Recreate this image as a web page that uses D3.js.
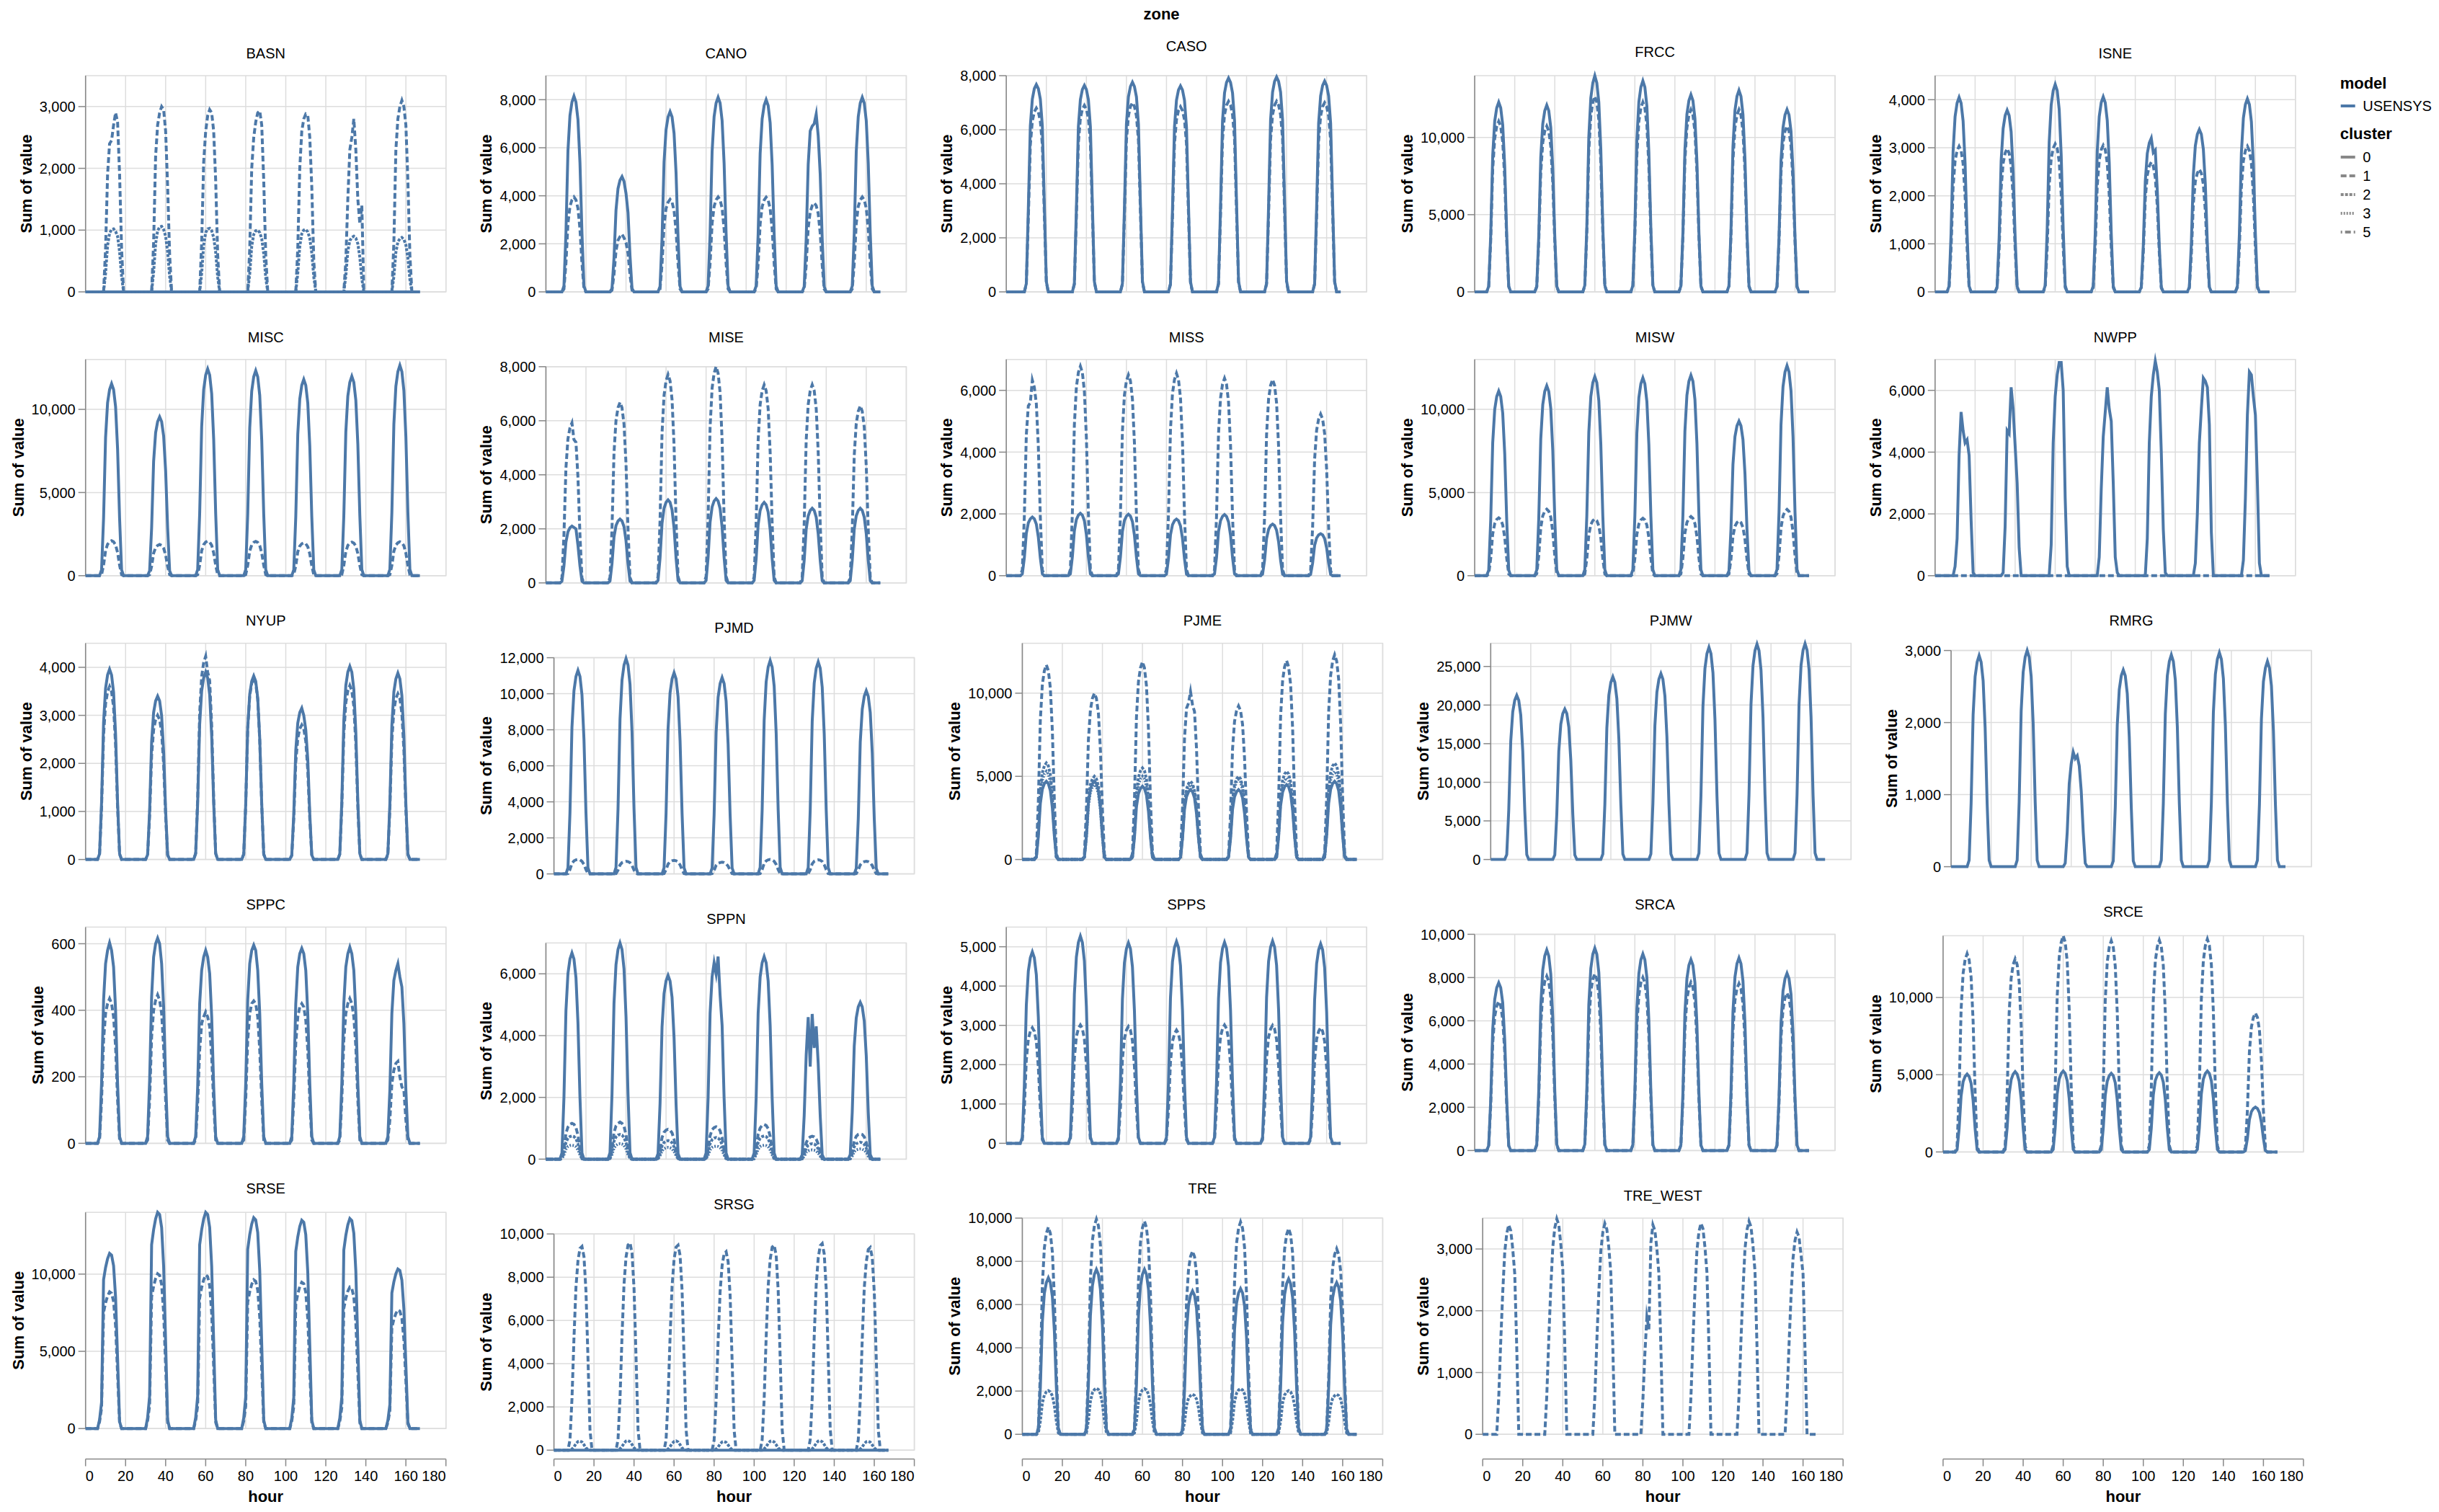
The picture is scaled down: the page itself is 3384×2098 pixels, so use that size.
<!DOCTYPE html>
<html><head><meta charset="utf-8">
<script src="https://cdn.jsdelivr.net/npm/d3@7"></script>
<style>html,body{margin:0;padding:0;background:#fff;} svg{display:block;font-family:"Liberation Sans",Arial,sans-serif;}</style>
</head><body><svg id="chart" width="3384" height="2098"></svg>
<script>
// ---------------- DATA ----------------
const zones = ["BASN","CANO","CASO","FRCC","ISNE","MISC","MISE","MISS","MISW","NWPP","NYUP","PJMD","PJME","PJMW","RMRG","SPPC","SPPN","SPPS","SRCA","SRCE","SRSE","SRSG","TRE","TRE_WEST"];
// first hour of each day's daylight window (hour of day) per zone
const startHour = [9,9,10,7,7, 8,8,8,7,9, 7,7,7,8,9, 7,8,8,7,7, 7,8,8,8];
const clusters = ["0","1","2","3","5"];
const models = ["USENSYS"];
const hourTicks = [0,20,40,60,80,100,120,140,160,180];
// each series: 7 days, hourly values starting at the zone's start hour (other hours are 0)
const BASN_c0 = [];
const BASN_c1 = [[0,700,1900,2400,2450,2700,2900,2750,1900,700,0],[0,800,2200,2700,2900,3000,2950,2600,1700,600,0],[0,800,2100,2600,2850,2950,2900,2600,1800,600,0],[0,700,2000,2500,2750,2900,2930,2700,1800,600,0],[0,700,2000,2600,2800,2880,2860,2500,1700,500,0],[0,500,1500,2300,2500,2800,2300,1500,1100,1400,0],[0,800,2300,2800,3000,3100,3000,2700,1800,600,0]];
const BASN_c2 = [[0,300,750,950,1010,1020,980,900,650,250,0],[0,320,780,990,1050,1060,1010,900,650,250,0],[0,300,760,960,1020,1030,990,880,640,240,0],[0,290,740,930,990,1000,960,860,620,230,0],[0,300,740,940,1000,1010,970,870,630,240,0],[0,260,660,830,880,900,870,780,560,210,0],[0,250,640,810,860,880,850,760,550,200,0]];
const CANO_c0 = [[240,2450,5870,7340,7900,8150,7900,7170,5380,2450,240],[140,1400,3400,4300,4650,4800,4600,4100,3300,1500,140],[230,2250,5400,6750,7280,7500,7280,6600,4950,2250,230],[240,2430,5830,7290,7860,8100,7860,7130,5350,2430,240],[240,2400,5760,7200,7760,8000,7760,7040,5280,2400,240],[220,2200,5300,6700,6900,7000,7400,6500,4900,2200,220],[240,2430,5830,7290,7860,8100,7860,7130,5350,2430,240]];
const CANO_c1 = [[120,1190,2840,3560,3830,3950,3830,3480,2610,1190,120],[70,720,1700,2150,2300,2400,2250,2050,1600,700,70],[120,1160,2770,3470,3730,3850,3730,3390,2540,1160,120],[120,1190,2840,3560,3830,3950,3830,3480,2610,1190,120],[120,1180,2830,3550,3820,3940,3820,3470,2600,1180,120],[110,1110,2660,3330,3590,3700,3590,3260,2440,1110,110],[120,1190,2840,3560,3830,3950,3830,3480,2610,1190,120]];
const CASO_c0 = [[310,3070,6140,7130,7520,7670,7520,7130,6140,3220,380],[310,3060,6110,7110,7490,7640,7490,7110,6110,3210,380],[310,3100,6210,7220,7600,7760,7600,7220,6210,3260,390],[300,3050,6100,7090,7470,7620,7470,7090,6100,3200,380],[320,3160,6330,7360,7750,7910,7750,7360,6330,3320,400],[320,3180,6360,7390,7790,7950,7790,7390,6360,3340,400],[310,3120,6240,7250,7640,7800,7640,7250,6240,3280,390]];
const CASO_c1 = [[270,2720,5440,6320,6660,6800,6660,6320,5440,2860,340],[280,2760,5520,6420,6760,6900,6760,6420,5520,2900,350],[280,2800,5600,6510,6860,7000,6860,6510,5600,2940,350],[270,2740,5480,6370,6710,6850,6710,6370,5480,2880,340],[280,2820,5640,6560,6910,7050,6910,6560,5640,2960,350],[280,2820,5640,6560,6910,7050,6910,6560,5640,2960,350],[280,2800,5600,6510,6860,7000,6860,6510,5600,2940,350]];
const FRCC_c0 = [[370,3680,8840,11050,11910,12280,11910,10810,8100,3680,370],[360,3630,8700,10880,11730,12090,11730,10640,7980,3630,360],[420,4190,10040,12560,13530,14000,13530,12280,9210,4190,420],[410,4100,9840,12300,13260,13670,13260,12030,9020,4100,410],[380,3830,9190,11490,12390,12770,12390,11240,8430,3830,380],[390,3920,9400,11750,12660,13050,12660,11480,8610,3920,390],[350,3540,8500,10630,11460,11810,11460,10390,7790,3540,350]];
const FRCC_c1 = [[330,3310,7950,9940,10710,11040,10710,9720,7290,3310,330],[320,3220,7730,9660,10410,10730,10410,9440,7080,3220,320],[380,3800,9120,11390,12280,12660,12280,11140,8360,3800,380],[370,3680,8840,11050,11910,12280,11910,10810,8100,3680,370],[350,3540,8500,10620,11450,11800,11450,10380,7790,3540,350],[350,3540,8500,10620,11450,11800,11450,10380,7790,3540,350],[320,3220,7730,9660,10410,10730,10410,9440,7080,3220,320]];
const ISNE_c0 = [[120,1220,2920,3650,3930,4050,3930,3560,2670,1220,120],[110,1130,2720,3400,3670,3780,3670,3330,2490,1130,110],[130,1300,3110,3890,4190,4320,4190,3800,2850,1300,130],[120,1220,2920,3650,3940,4060,3940,3570,2680,1220,120],[100,960,2300,2880,3100,3200,2900,2950,2110,960,100],[100,1010,2430,3040,3280,3380,3280,2970,2230,1010,100],[120,1210,2890,3620,3900,4020,3900,3540,2650,1210,120]];
const ISNE_c1 = [[90,910,2180,2730,2940,3030,2940,2670,2000,910,90],[90,890,2150,2680,2890,2980,2890,2620,1970,890,90],[90,920,2220,2770,2990,3080,2990,2710,2030,920,90],[90,920,2200,2750,2960,3050,2960,2680,2010,920,90],[80,810,1940,2430,2620,2700,2620,2380,1780,810,80],[80,770,1840,2300,2470,2550,2470,2240,1680,770,80],[90,910,2180,2730,2940,3030,2940,2670,2000,910,90]];
const MISC_c0 = [[350,3460,8310,10390,11190,11540,11190,10160,7620,3460,350],[290,2870,6880,8600,9260,9550,9260,8400,6300,2870,290],[370,3730,8950,11190,12060,12430,12060,10940,8200,3730,370],[370,3700,8880,11100,11960,12330,11960,10850,8140,3700,370],[350,3540,8500,10620,11450,11800,11450,10380,7790,3540,350],[360,3600,8630,10790,11630,11990,11630,10550,7910,3600,360],[380,3800,9110,11390,12270,12650,12270,11130,8350,3800,380]];
const MISC_c1 = [[60,630,1510,1890,2040,2100,2040,1850,1390,630,60],[60,560,1350,1690,1820,1880,1820,1650,1240,560,60],[60,620,1500,1870,2020,2080,2020,1830,1370,620,60],[60,620,1480,1850,2000,2060,2000,1810,1360,620,60],[60,590,1430,1780,1920,1980,1920,1740,1310,590,60],[60,610,1450,1820,1960,2020,1960,1780,1330,610,60],[60,610,1470,1840,1980,2040,1980,1800,1350,610,60]];
const MISE_c0 = [[60,630,1510,1890,2040,2100,2050,2000,1390,630,60],[70,710,1700,2120,2290,2360,2290,2080,1560,710,70],[90,920,2210,2760,2980,3070,2980,2700,2030,920,90],[90,940,2250,2810,3030,3120,3030,2750,2060,940,90],[90,890,2150,2680,2890,2980,2890,2620,1970,890,90],[80,830,1990,2480,2680,2760,2680,2430,1820,830,80],[80,830,1990,2480,2680,2760,2680,2430,1820,830,80]];
const MISE_c1 = [[180,1780,4260,5330,5740,5920,5300,5200,3910,1780,180],[200,2000,4810,6010,6480,6680,6480,5880,4410,2000,200],[230,2310,5550,6940,7480,7710,7480,6780,5090,2310,230],[240,2400,5760,7200,7760,8000,7760,7040,5280,2400,240],[220,2200,5280,6600,7110,7330,7110,6450,4840,2200,220],[220,2200,5280,6600,7110,7330,7110,6450,4840,2200,220],[200,1970,4720,5900,6350,6550,6350,5760,4320,1970,200]];
const MISS_c0 = [[60,570,1370,1710,1840,1900,1840,1670,1250,570,60],[60,610,1450,1820,1960,2020,1960,1780,1330,610,60],[60,600,1430,1790,1930,1990,1930,1750,1310,600,60],[50,550,1320,1650,1780,1830,1780,1610,1210,550,50],[60,590,1430,1780,1920,1980,1920,1740,1310,590,60],[50,500,1200,1500,1620,1670,1620,1470,1100,500,50],[40,410,980,1220,1320,1360,1320,1200,900,410,40]];
const MISS_c1 = [[190,1900,4560,5500,5600,6330,6100,5570,4180,1900,190],[200,2030,4880,6100,6580,6780,6580,5970,4470,2030,200],[200,1950,4680,5850,6310,6500,6310,5720,4290,1950,200],[200,1970,4720,5900,6350,6550,6350,5760,4320,1970,200],[190,1920,4600,5750,6200,6390,6200,5620,4220,1920,190],[190,1910,4570,5720,6160,6350,6160,5590,4190,1910,190],[160,1570,3770,4710,5070,5230,5070,4600,3450,1570,160]];
const MISW_c0 = [[330,3330,7990,9990,10770,11100,10770,9770,7330,3330,330],[340,3430,8220,10280,11080,11420,11080,10050,7540,3430,340],[360,3590,8620,10770,11610,11970,11610,10530,7900,3590,360],[360,3570,8570,10710,11540,11900,11540,10470,7850,3570,360],[360,3620,8680,10850,11690,12050,11690,10600,7950,3620,360],[280,2790,6690,8360,9010,9290,9010,8180,6130,2790,280],[380,3790,9090,11370,12250,12630,12250,11110,8340,3790,380]];
const MISW_c1 = [[100,1040,2510,3130,3380,3480,3380,3060,2300,1040,100],[120,1200,2880,3600,3880,4000,3880,3520,2640,1200,120],[100,1020,2460,3070,3310,3410,3310,3000,2250,1020,100],[100,1040,2480,3110,3350,3450,3350,3040,2280,1040,100],[110,1070,2560,3200,3450,3560,3450,3130,2350,1070,110],[100,990,2380,2970,3200,3300,3200,2900,2180,990,100],[120,1200,2870,3590,3870,3990,3870,3510,2630,1200,120]];
const NWPP_c0 = [[0,300,1200,3900,5300,4700,4300,4400,3900,1800,100],[0,100,1600,4700,4600,6100,5400,4200,3000,900,0],[0,1000,4300,5800,6500,6900,6900,6000,2500,300,0],[0,600,2800,4500,5300,6100,5400,5000,3000,600,100],[0,1200,4300,5800,6500,6950,6600,6000,4000,1500,100],[0,400,2000,4300,5400,6400,6300,6100,4900,1400,0],[0,500,2500,5200,6600,6500,5800,5200,3000,400,0]];
const NWPP_c1 = [];
const NYUP_c0 = [[120,1190,2850,3560,3840,3960,3840,3480,2610,1190,120],[100,1020,2450,3060,3300,3400,3300,2990,2240,1020,100],[120,1170,2810,3510,3780,3900,3780,3430,2570,1170,120],[110,1150,2750,3440,3710,3820,3710,3360,2520,1150,110],[90,950,2270,2840,3060,3150,3000,2700,2080,950,90],[120,1210,2890,3620,3900,4020,3900,3540,2650,1210,120],[120,1160,2790,3490,3760,3880,3760,3410,2560,1160,120]];
const NYUP_c1 = [[110,1080,2590,3240,3490,3600,3490,3170,2380,1080,110],[90,900,2160,2700,2910,3000,2910,2640,1980,900,90],[130,1270,3050,3810,4100,4230,3900,3720,2790,1270,130],[110,1130,2720,3400,3670,3780,3670,3330,2490,1130,110],[80,840,2020,2520,2720,2800,2720,2460,1850,840,80],[110,1090,2610,3260,3510,3620,3510,3190,2390,1090,110],[100,1040,2480,3110,3350,3450,3350,3040,2280,1040,100]];
const PJMD_c0 = [[340,3390,8140,10170,10960,11300,10960,9940,7460,3390,340],[360,3590,8600,10760,11590,11950,11590,10520,7890,3590,360],[340,3350,8040,10050,10830,11170,10830,9830,7370,3350,340],[330,3270,7850,9810,10570,10900,10570,9590,7190,3270,330],[360,3550,8520,10660,11480,11840,11480,10420,7810,3550,360],[350,3530,8470,10590,11420,11770,11420,10360,7770,3530,350],[310,3050,7320,9150,9860,10170,9860,8950,6710,3050,310]];
const PJMD_c1 = [[20,240,580,720,780,800,780,700,530,240,20],[20,210,500,630,680,700,680,620,460,210,20],[20,230,540,680,730,750,730,660,500,230,20],[20,200,470,590,630,650,630,570,430,200,20],[20,240,580,720,780,800,780,700,530,240,20],[20,230,560,700,760,780,760,690,510,230,20],[20,210,500,630,680,700,680,620,460,210,20]];
const PJME_c0 = [[140,1410,3380,4230,4560,4700,4560,4140,3100,1410,140],[140,1410,3380,4230,4560,4700,4560,4140,3100,1410,140],[130,1320,3170,3960,4270,4400,4270,3870,2900,1320,130],[130,1260,3020,3780,4070,4200,4070,3700,2770,1260,130],[130,1260,3020,3780,4070,4200,4070,3700,2770,1260,130],[140,1350,3240,4050,4370,4500,4370,3960,2970,1350,140],[140,1410,3380,4230,4560,4700,4560,4140,3100,1410,140]];
const PJME_c1 = [[350,3510,8420,10530,11350,11700,11350,10300,7720,3510,350],[300,3000,7190,8990,9690,9990,9690,8790,6590,3000,300],[360,3560,8550,10690,11520,11880,11520,10450,7840,3560,360],[300,3030,7270,9090,9400,10100,9300,8890,6670,3030,300],[280,2770,6650,8310,8950,9230,8950,8120,6090,2770,280],[360,3590,8600,10760,11590,11950,11590,10520,7890,3590,360],[370,3690,8860,11080,11940,12310,11940,10830,8120,3690,370]];
const PJME_c2 = [[170,1740,4180,5220,5630,5800,5630,5100,3830,1740,170],[150,1500,3600,4500,4850,5000,4850,4400,3300,1500,150],[170,1650,3960,4950,5340,5500,5340,4840,3630,1650,170],[140,1410,3380,4230,4560,4700,4560,4140,3100,1410,140],[150,1500,3600,4500,4850,5000,4850,4400,3300,1500,150],[160,1590,3820,4770,5140,5300,5140,4660,3500,1590,160],[170,1740,4180,5220,5630,5800,5630,5100,3830,1740,170]];
const PJME_c3 = [[160,1590,3820,4770,5140,5300,5140,4660,3500,1590,160],[140,1350,3240,4050,4370,4500,4370,3960,2970,1350,140],[150,1500,3600,4500,4850,5000,4850,4400,3300,1500,150],[140,1350,3240,4050,4370,4500,4370,3960,2970,1350,140],[140,1440,3460,4320,4660,4800,4660,4220,3170,1440,140],[150,1470,3530,4410,4750,4900,4750,4310,3230,1470,150],[160,1590,3820,4770,5140,5300,5140,4660,3500,1590,160]];
const PJMW_c0 = [[640,6380,15310,19130,20620,21260,20620,18710,14030,6380,640],[580,5840,14030,17530,18900,19480,18900,17140,12860,5840,580],[710,7100,17040,21290,22950,23660,22950,20820,15620,7100,710],[720,7220,17330,21660,23350,24070,23350,21180,15890,7220,720],[820,8250,19790,24740,26670,27490,26670,24190,18140,8250,820],[840,8370,20090,25110,27060,27900,27060,24550,18410,8370,840],[840,8390,20120,25160,27110,27950,27110,24600,18450,8390,840]];
const RMRG_c0 = [[90,880,2110,2640,2840,2930,2840,2580,1930,880,90],[90,900,2160,2700,2910,3000,2910,2640,1980,900,90],[50,480,1150,1430,1590,1500,1540,1400,1050,480,50],[80,820,1970,2460,2650,2730,2650,2400,1800,820,80],[90,880,2120,2650,2850,2940,2850,2590,1940,880,90],[90,890,2140,2670,2880,2970,2880,2610,1960,890,90],[90,860,2050,2570,2760,2850,2760,2510,1880,860,90]];
const SPPC_c0 = [[20,180,430,540,580,603,580,530,400,180,20],[20,190,440,560,600,617,600,540,410,190,20],[20,170,420,520,560,580,560,510,380,170,20],[20,180,430,540,580,596,580,520,390,180,20],[20,180,420,530,570,586,570,520,390,180,20],[20,180,420,530,570,590,570,520,390,180,20],[20,160,390,490,520,540,500,470,360,160,20]];
const SPPC_c1 = [[10,130,310,390,420,435,420,380,290,130,10],[10,130,320,400,430,446,430,390,290,130,10],[10,120,280,360,380,395,380,350,260,120,10],[10,130,310,390,420,428,420,380,280,130,10],[10,130,300,380,410,420,410,370,280,130,10],[10,130,310,390,420,435,420,380,290,130,10],[10,70,180,220,240,246,200,170,160,70,10]];
const SPPN_c0 = [[200,2000,4810,6010,6480,6680,6480,5880,4410,2000,200],[210,2100,5040,6300,6790,7000,6790,6160,4620,2100,210],[180,1790,4280,5360,5770,5950,5770,5240,3930,1790,180],[200,1970,4720,5900,6360,6000,6560,5300,4330,1970,200],[200,1970,4720,5900,6360,6560,6360,5770,4330,1970,200],[140,1410,3380,4600,3000,4700,3600,4300,3100,1410,140],[150,1520,3660,4570,4930,5080,4930,4470,3350,1520,150]];
const SPPN_c1 = [[30,350,840,1040,1130,1160,1130,1020,770,350,30],[40,360,860,1080,1160,1200,1160,1060,790,360,40],[30,290,700,870,940,970,940,850,640,290,30],[30,320,760,950,1020,1050,1020,920,690,320,30],[30,340,810,1010,1090,1120,1090,990,740,340,30],[20,220,530,670,720,740,720,650,490,220,20],[20,250,590,740,800,820,800,720,540,250,20]];
const SPPN_c2 = [[20,230,540,680,730,750,730,660,500,230,20],[20,240,580,720,780,800,780,700,530,240,20],[20,180,430,540,580,600,580,530,400,180,20],[20,210,500,630,680,700,680,620,460,210,20],[20,230,540,680,730,750,730,660,500,230,20],[20,150,360,450,490,500,490,440,330,150,20],[20,170,400,500,530,550,530,480,360,170,20]];
const SPPN_c3 = [[10,140,320,410,440,450,440,400,300,140,10],[20,150,360,450,490,500,490,440,330,150,20],[10,110,270,340,370,380,370,330,250,110,10],[10,130,300,380,410,420,410,370,280,130,10],[10,140,320,410,440,450,440,400,300,140,10],[10,90,220,270,290,300,290,260,200,90,10],[10,100,240,300,320,330,320,290,220,100,10]];
const SPPS_c0 = [[150,1460,3510,4380,4720,4870,4720,4290,3210,1460,150],[160,1580,3790,4740,5110,5270,5110,4640,3480,1580,160],[150,1530,3670,4590,4950,5100,4950,4490,3370,1530,150],[150,1540,3700,4620,4980,5135,4980,4520,3390,1540,150],[150,1530,3680,4600,4960,5116,4960,4500,3380,1530,150],[150,1540,3710,4630,4990,5147,4990,4530,3400,1540,150],[150,1520,3650,4570,4920,5074,4920,4470,3350,1520,150]];
const SPPS_c1 = [[90,880,2120,2650,2850,2940,2850,2590,1940,880,90],[90,900,2170,2710,2920,3010,2920,2650,1990,900,90],[90,890,2140,2670,2880,2970,2880,2610,1960,890,90],[90,860,2070,2590,2790,2880,2790,2530,1900,860,90],[90,900,2170,2710,2920,3010,2920,2650,1990,900,90],[90,900,2160,2700,2910,3000,2910,2640,1980,900,90],[90,880,2120,2650,2850,2940,2850,2590,1940,880,90]];
const SRCA_c0 = [[230,2330,5590,6980,7530,7760,7530,6830,5120,2330,230],[280,2780,6680,8350,9000,9280,9000,8170,6120,2780,280],[280,2810,6740,8420,9080,9360,9080,8240,6180,2810,280],[270,2730,6540,8180,8820,9090,8820,8000,6000,2730,270],[260,2650,6360,7950,8570,8830,8570,7770,5830,2650,260],[270,2670,6420,8020,8640,8910,8640,7840,5880,2670,270],[250,2460,5900,7380,7950,8200,7950,7220,5410,2460,250]];
const SRCA_c1 = [[210,2070,4960,6200,6680,6890,6680,6060,4550,2070,210],[240,2420,5800,7250,7820,8060,7820,7090,5320,2420,240],[250,2450,5880,7350,7920,8170,7920,7190,5390,2450,250],[240,2400,5760,7200,7760,8000,7760,7040,5280,2400,240],[230,2330,5600,7000,7550,7780,7550,6850,5130,2330,230],[230,2320,5560,6950,7490,7720,7490,6790,5100,2320,230],[220,2180,5240,6550,7060,7280,7060,6410,4800,2180,220]];
const SRCE_c0 = [[150,1510,3630,4540,4890,5040,4890,4440,3330,1510,150],[160,1560,3740,4680,5040,5200,5040,4580,3430,1560,160],[160,1570,3770,4720,5080,5240,5080,4610,3460,1570,160],[150,1530,3660,4580,4940,5090,4940,4480,3360,1530,150],[150,1540,3690,4620,4980,5130,4980,4510,3390,1540,150],[160,1570,3770,4720,5080,5240,5080,4610,3460,1570,160],[90,870,2090,2610,2810,2900,2810,2550,1910,870,90]];
const SRCE_c1 = [[390,3850,9240,11560,12450,12840,12450,11300,8470,3850,390],[380,3750,9000,11250,12130,12500,12130,11000,8250,3750,380],[420,4200,10080,12600,13580,14000,13580,12320,9240,4200,420],[410,4100,9840,12300,13260,13670,13260,12030,9020,4100,410],[410,4110,9870,12340,13300,13710,13300,12060,9050,4110,410],[410,4130,9920,12400,13370,13780,13370,12130,9090,4130,410],[270,2700,6470,8090,8720,8990,8720,7910,5930,2700,270]];
const SRSE_c0 = [[570,1700,9640,10430,11000,11340,11230,10550,8500,4540,450],[700,2100,11900,12880,13580,14000,13860,13020,10500,5600,560],[700,2100,11900,12880,13580,14000,13860,13020,10500,5600,560],[680,2050,11600,12560,13240,13650,13510,12690,10240,5460,550],[670,2020,11470,12410,13090,13490,13360,12550,10120,5400,540],[680,2040,11560,12510,13190,13600,13460,12650,10200,5440,540],[520,1550,8780,9500,10020,10330,10230,9610,7750,4130,410]];
const SRSE_c1 = [[440,1330,7520,8140,8580,8850,8760,8230,6640,3540,350],[500,1500,8520,9220,9720,10020,9920,9320,7520,4010,400],[500,1490,8450,9140,9640,9940,9840,9240,7460,3980,400],[480,1440,8190,8860,9340,9630,9530,8960,7220,3850,390],[470,1420,8050,8710,9190,9470,9380,8810,7100,3790,380],[460,1370,7790,8430,8890,9160,9070,8520,6870,3660,370],[380,1150,6530,7070,7450,7680,7600,7140,5760,3070,310]];
const SRSG_c0 = [];
const SRSG_c1 = [[470,2360,5180,7540,8760,9330,9420,8950,7350,4240,940],[480,2400,5270,7670,8920,9490,9590,9110,7480,4320,960],[470,2370,5210,7580,8820,9390,9480,9010,7390,4270,950],[460,2300,5050,7340,8540,9090,9180,8720,7160,4130,920],[470,2370,5210,7580,8820,9390,9480,9010,7390,4270,950],[480,2390,5260,7650,8890,9460,9560,9080,7460,4300,960],[470,2340,5150,7500,8710,9280,9370,8900,7310,4220,940]];
const SRSG_c2 = [[0,50,150,300,400,420,380,250,100,30,0],[0,60,170,320,420,440,390,260,110,30,0],[0,50,160,310,400,430,380,250,100,30,0],[0,50,140,290,380,400,360,240,100,30,0],[0,60,160,310,410,430,380,250,100,30,0],[0,60,170,320,420,440,390,260,110,30,0],[0,50,150,300,390,410,370,240,100,30,0]];
const TRE_c0 = [[220,2170,5210,6520,7020,7240,7020,6370,4780,2170,220],[230,2290,5490,6870,7400,7630,7400,6710,5040,2290,230],[230,2290,5490,6870,7400,7630,7400,6710,5040,2290,230],[200,1990,4770,5970,6430,6630,6430,5830,4380,1990,200],[200,2020,4850,6070,6540,6740,6540,5930,4450,2020,200],[220,2160,5180,6470,6970,7190,6970,6330,4750,2160,220],[210,2110,5050,6320,6810,7020,6810,6180,4630,2110,210]];
const TRE_c1 = [[290,2870,6900,8620,9290,9580,9290,8430,6320,2870,290],[300,2990,7160,8960,9650,9950,9650,8760,6570,2990,300],[300,2960,7100,8870,9560,9860,9560,8680,6510,2960,300],[250,2540,6100,7620,8220,8470,8220,7450,5590,2540,250],[290,2950,7070,8840,9530,9820,9530,8640,6480,2950,290],[290,2860,6850,8570,9230,9520,9230,8380,6280,2860,290],[260,2570,6180,7720,8320,8580,8320,7550,5660,2570,260]];
const TRE_c2 = [[60,610,1450,1820,1960,2020,1960,1780,1330,610,60],[60,640,1530,1920,2070,2130,2070,1870,1410,640,60],[60,630,1520,1900,2050,2110,2050,1860,1390,630,60],[60,560,1330,1670,1790,1850,1790,1630,1220,560,60],[60,630,1520,1900,2050,2110,2050,1860,1390,630,60],[60,610,1450,1820,1960,2020,1960,1780,1330,610,60],[60,560,1330,1670,1790,1850,1790,1630,1220,560,60]];
const TRE_WEST_c1 = [[600,1500,2300,2950,3250,3390,3300,3000,2600,1400,0],[620,1540,2370,3030,3340,3487,3390,3080,2670,1440,0],[600,1510,2310,2970,3270,3410,3320,3020,2610,1410,0],[550,1300,1900,1700,3100,3390,3300,3000,2600,1400,0],[600,1510,2320,2970,3280,3417,3330,3030,2620,1410,0],[610,1530,2340,3000,3310,3450,3360,3050,2640,1420,0],[580,1450,2230,2850,3140,3274,3190,2900,2600,1350,0]];

const seriesList = [
  ["BASN","0",BASN_c0],["BASN","1",BASN_c1],["BASN","2",BASN_c2],
  ["CANO","0",CANO_c0],["CANO","1",CANO_c1],
  ["CASO","0",CASO_c0],["CASO","1",CASO_c1],
  ["FRCC","0",FRCC_c0],["FRCC","1",FRCC_c1],
  ["ISNE","0",ISNE_c0],["ISNE","1",ISNE_c1],
  ["MISC","0",MISC_c0],["MISC","1",MISC_c1],
  ["MISE","0",MISE_c0],["MISE","1",MISE_c1],
  ["MISS","0",MISS_c0],["MISS","1",MISS_c1],
  ["MISW","0",MISW_c0],["MISW","1",MISW_c1],
  ["NWPP","0",NWPP_c0],["NWPP","1",NWPP_c1],
  ["NYUP","0",NYUP_c0],["NYUP","1",NYUP_c1],
  ["PJMD","0",PJMD_c0],["PJMD","1",PJMD_c1],
  ["PJME","0",PJME_c0],["PJME","1",PJME_c1],["PJME","2",PJME_c2],["PJME","3",PJME_c3],
  ["PJMW","0",PJMW_c0],
  ["RMRG","0",RMRG_c0],
  ["SPPC","0",SPPC_c0],["SPPC","1",SPPC_c1],
  ["SPPN","0",SPPN_c0],["SPPN","1",SPPN_c1],["SPPN","2",SPPN_c2],["SPPN","3",SPPN_c3],
  ["SPPS","0",SPPS_c0],["SPPS","1",SPPS_c1],
  ["SRCA","0",SRCA_c0],["SRCA","1",SRCA_c1],
  ["SRCE","0",SRCE_c0],["SRCE","1",SRCE_c1],
  ["SRSE","0",SRSE_c0],["SRSE","1",SRSE_c1],
  ["SRSG","0",SRSG_c0],["SRSG","1",SRSG_c1],["SRSG","2",SRSG_c2],
  ["TRE","0",TRE_c0],["TRE","1",TRE_c1],["TRE","2",TRE_c2],
  ["TRE_WEST","1",TRE_WEST_c1]
];

// ---------------- RENDER ----------------
const W = 3384, H = 2098, PW = 500, PH = 300, NCOL = 5, NH = 168;
const COLOR = "#4c78a8", GRID = "#dddddd", AXIS = "#888888";
const dashOf = {"0": null, "1": "8,4", "2": "4,2", "3": "2,2", "5": "2,4,8,4"};
const svg = d3.select("#chart");
svg.append("rect").attr("width", W).attr("height", H).attr("fill", "#fff");

const ctx = document.createElement("canvas").getContext("2d");
ctx.font = '20px "Liberation Sans", Arial, sans-serif';
const tw = s => ctx.measureText(s).width;
const fmt = d3.format(",");
const hours = d3.range(NH);

function expand(days, start) {
  return hours.map(h => {
    const d = Math.floor(h / 24), k = h - d * 24 - start, day = days[d];
    return (day && k >= 0 && k < day.length) ? day[k] : 0;
  });
}

const x = d3.scaleLinear().domain([0, 180]).range([0, PW]);

const panels = zones.map((z, i) => {
  const ser = seriesList.filter(s => s[0] === z)
    .map(s => ({cluster: s[1], values: expand(s[2], startHour[i])}))
    .sort((a, b) => clusters.indexOf(a.cluster) - clusters.indexOf(b.cluster));
  const maxV = d3.max(ser, s => d3.max(s.values));
  const y = d3.scaleLinear().domain([0, maxV]).nice().range([PH, 0]);
  const dmax = y.domain()[1];
  const ticks = y.ticks(4);
  const labelW = d3.max(ticks, t => tw(fmt(t)));
  const e = ticks[ticks.length - 1] === dmax ? 10 : (maxV >= dmax ? 2 : 0);
  return {zone: z, i, row: Math.floor(i / NCOL), col: i % NCOL, ser, y, ticks, labelW, e};
});
panels.forEach(p => {
  p.left = p.col === 0 ? 118.7 : panels[p.i - 1].left + PW + 88.7 + p.labelW;
  p.top = p.row === 0 ? 105 : panels[p.i - NCOL].top + PH + 93.8 + p.e;
});

const line = d3.line().x((d, h) => x(h));

panels.forEach(p => {
  const g = svg.append("g").attr("transform", `translate(${p.left},${p.top})`);
  g.selectAll(".gy").data(p.ticks).join("line")
    .attr("x1", 0).attr("x2", PW).attr("y1", d => p.y(d)).attr("y2", d => p.y(d))
    .attr("stroke", GRID).attr("stroke-width", 1.5);
  g.selectAll(".gx").data(hourTicks).join("line")
    .attr("x1", d => x(d)).attr("x2", d => x(d)).attr("y1", 0).attr("y2", PH)
    .attr("stroke", GRID).attr("stroke-width", 1.5);
  g.append("rect").attr("x", 0).attr("y", 0).attr("width", PW).attr("height", PH)
    .attr("fill", "none").attr("stroke", GRID).attr("stroke-width", 1.5);
  g.append("line").attr("x1", 0).attr("x2", 0).attr("y1", 0).attr("y2", PH)
    .attr("stroke", AXIS).attr("stroke-width", 1.5);
  g.selectAll(".ty").data(p.ticks).join("line")
    .attr("x1", -10).attr("x2", 0).attr("y1", d => p.y(d)).attr("y2", d => p.y(d))
    .attr("stroke", AXIS).attr("stroke-width", 1.5);
  g.selectAll(".ly").data(p.ticks).join("text")
    .attr("x", -14).attr("y", d => p.y(d)).attr("dy", "0.36em")
    .attr("text-anchor", "end").attr("font-size", 20).attr("fill", "#000")
    .text(d => fmt(d));
  g.append("text")
    .attr("transform", `translate(${-33 - p.labelW + 8},${PH / 2}) rotate(-90)`)
    .attr("text-anchor", "middle").attr("font-size", 22).attr("font-weight", "bold")
    .attr("fill", "#000").text("Sum of value");
  g.append("text").attr("x", PW / 2).attr("y", -p.e - 24.3)
    .attr("text-anchor", "middle").attr("font-size", 20).attr("fill", "#000").text(p.zone);
  p.ser.forEach(s => {
    const ln = line.y(d => p.y(d));
    g.append("path").attr("d", ln(s.values)).attr("fill", "none")
      .attr("stroke", COLOR).attr("stroke-width", 4)
      .attr("stroke-linejoin", "miter").attr("stroke-miterlimit", 10)
      .attr("stroke-dasharray", dashOf[s.cluster]);
  });
});

// footer x axes
const lastRow = d3.max(panels, p => p.row);
const footerY = d3.max(panels.filter(p => p.row === lastRow), p => p.top + PH) + 12.3;
d3.range(NCOL).forEach(c => {
  const col = panels.filter(p => p.col === c);
  const p = col[col.length - 1];
  const g = svg.append("g").attr("transform", `translate(${p.left},${footerY})`);
  g.append("line").attr("x1", 0).attr("x2", PW).attr("y1", 0).attr("y2", 0)
    .attr("stroke", AXIS).attr("stroke-width", 1.5);
  g.selectAll(".tx").data(hourTicks).join("line")
    .attr("x1", d => x(d)).attr("x2", d => x(d)).attr("y1", 0).attr("y2", 10)
    .attr("stroke", AXIS).attr("stroke-width", 1.5);
  g.selectAll(".lx").data(hourTicks).join("text")
    .attr("x", d => x(d)).attr("y", 30)
    .attr("text-anchor", (d, i) => i === 0 ? "start" : (i === hourTicks.length - 1 ? "end" : "middle"))
    .attr("font-size", 20).attr("fill", "#000").text(d => d);
  g.append("text").attr("x", PW / 2).attr("y", 59).attr("text-anchor", "middle")
    .attr("font-size", 22).attr("font-weight", "bold").attr("fill", "#000").text("hour");
});

// header title
const maxRight = d3.max(panels, p => p.left + PW);
svg.append("text").attr("x", (16 + maxRight) / 2).attr("y", 27.4).attr("text-anchor", "middle")
  .attr("font-size", 22).attr("font-weight", "bold").attr("fill", "#000").text("zone");

// legend
const L = maxRight + 39.6;
const lg = svg.append("g").attr("transform", `translate(${L},0)`);
lg.append("text").attr("x", 0).attr("y", 122.7).attr("font-size", 22).attr("font-weight", "bold").text("model");
models.forEach((m, i) => {
  const yy = 154 + i * 26;
  lg.append("line").attr("x1", 1).attr("x2", 21).attr("y1", yy - 7).attr("y2", yy - 7)
    .attr("stroke", COLOR).attr("stroke-width", 4);
  lg.append("text").attr("x", 31.6).attr("y", yy).attr("font-size", 20).text(m);
});
lg.append("text").attr("x", 0).attr("y", 192.7).attr("font-size", 22).attr("font-weight", "bold").text("cluster");
clusters.forEach((c, i) => {
  const yy = 225 + i * 26;
  lg.append("line").attr("x1", 1).attr("x2", 21).attr("y1", yy - 7).attr("y2", yy - 7)
    .attr("stroke", "#888").attr("stroke-width", 4).attr("stroke-dasharray", dashOf[c]);
  lg.append("text").attr("x", 31.6).attr("y", yy).attr("font-size", 20).text(c);
});
</script></body></html>
